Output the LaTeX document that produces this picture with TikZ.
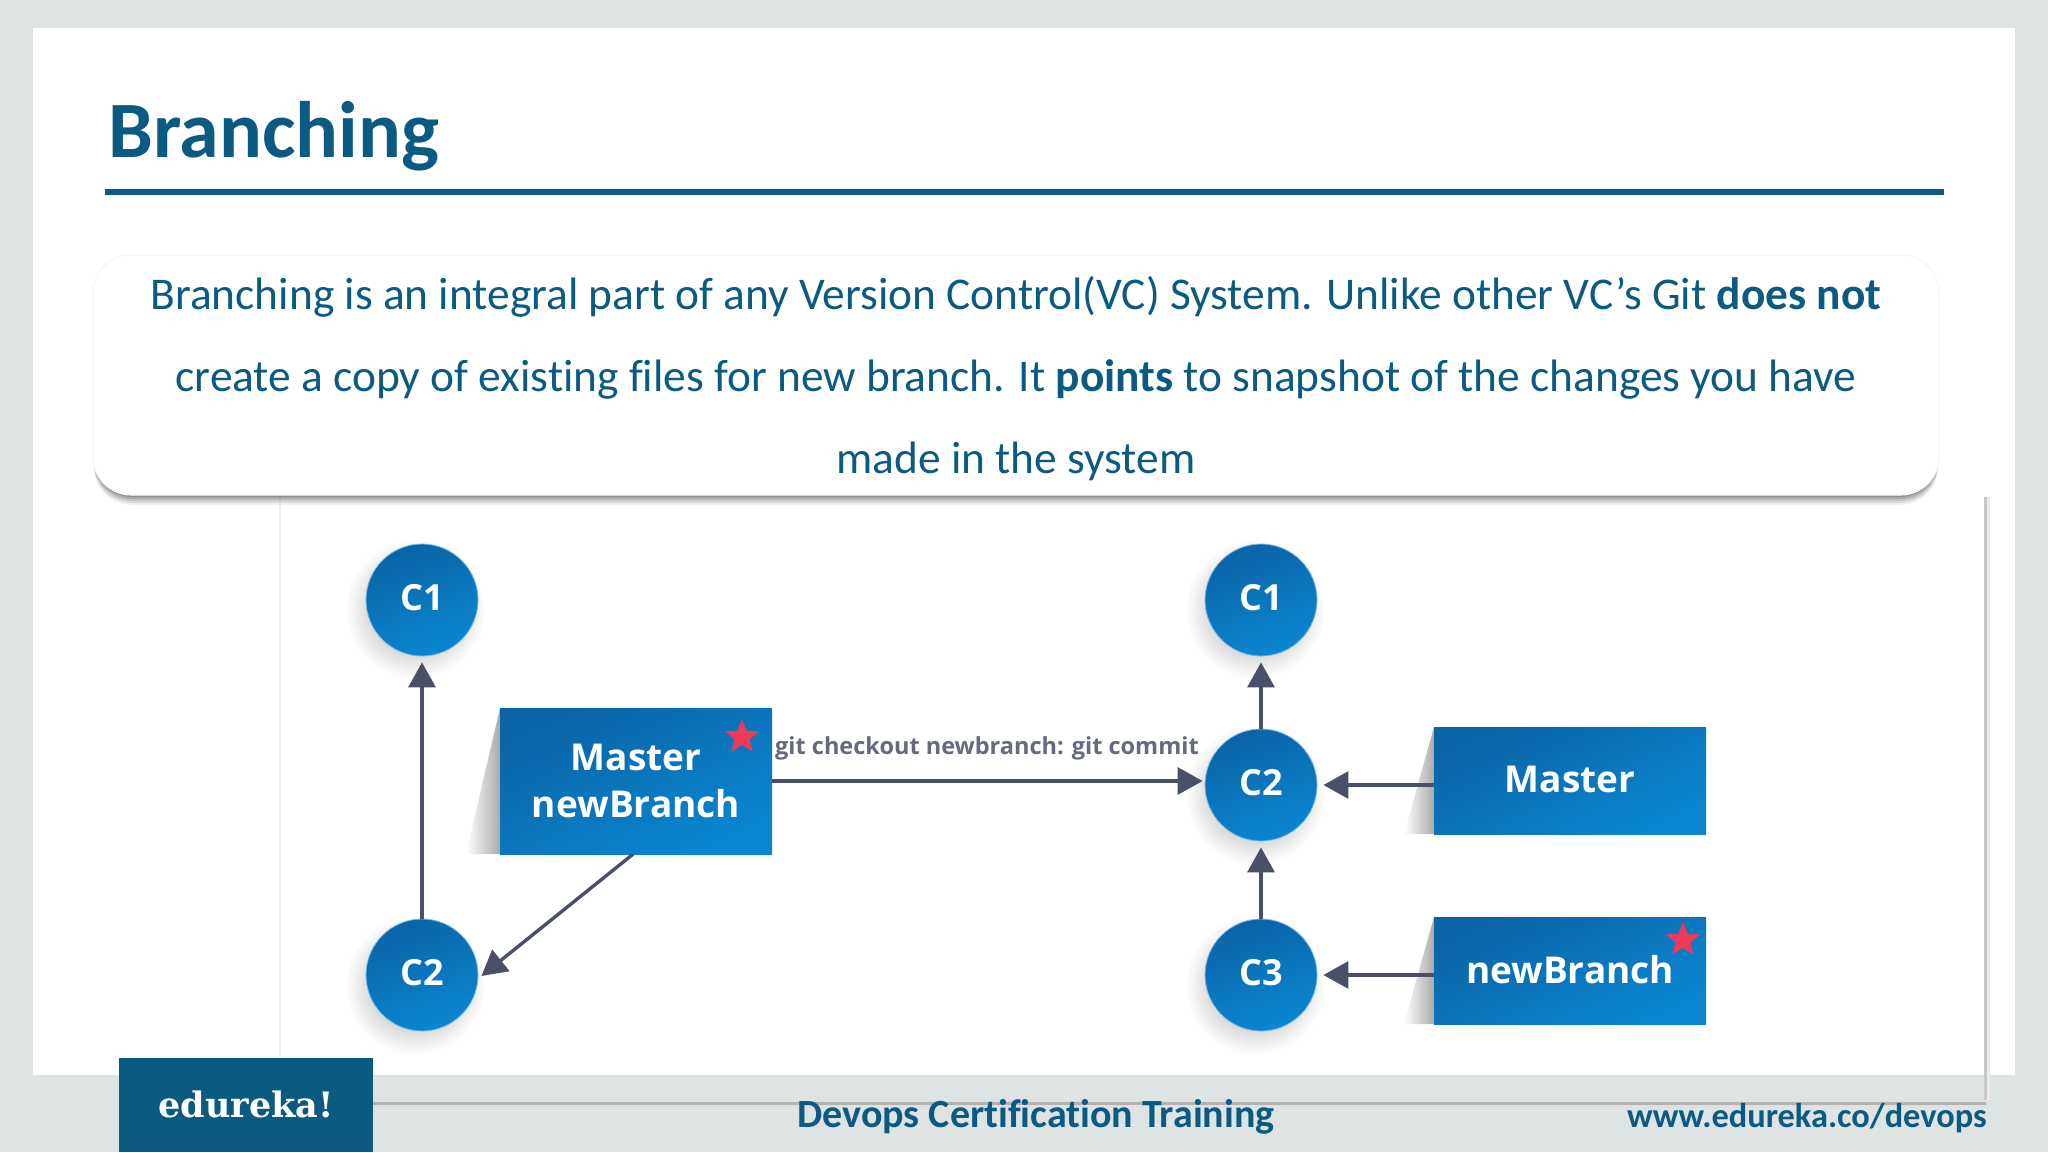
\documentclass[tikz,border=0pt]{standalone}
\usepackage{fontspec}
\setmainfont{Carlito}[Ligatures=NoCommon]
\newfontfamily\diag{Open Sans}
\newfontfamily\slab{DejaVu Serif}
\usetikzlibrary{shapes.geometric,arrows.meta,fadings}
\definecolor{slidebg}{HTML}{DEE3E3}
\definecolor{teal}{HTML}{0B5A82}
\definecolor{dk}{HTML}{4A5068}
\definecolor{blA}{HTML}{0A64A6}
\definecolor{blB}{HTML}{0A86D2}
\definecolor{starred}{HTML}{EE3A5A}
\tikzset{
  commit/.style={circle,minimum size=112pt,inner sep=0pt,shade,left color=blA,right color=blB,shading angle=20,
    draw=blB!55!white,line width=.8pt,text=white,font=\diag\fontsize{36}{40}\selectfont\bfseries},
  refbox/.style={rectangle,inner sep=0pt,left color=blA,right color=blB,shading angle=25,text=white,align=center,
    font=\diag\fontsize{37}{46}\selectfont\bfseries},
  conn/.style={draw=dk,line width=3.4pt,-{Triangle[length=25pt,width=27pt]}},
  gstar/.style={star,star points=5,star point ratio=2.3,fill=starred,minimum size=36pt,inner sep=0pt},
  boxshade/.style={fill=black!60,path fading=west,opacity=.55},
  softshade/.style={inner color=black!42,outer color=white},
  body/.style={text=teal,font=\fontsize{45.4}{45.4}\selectfont,anchor=base},
}
\begin{document}
\begin{tikzpicture}[x=1pt,y=-1pt]
\useasboundingbox (0,0) rectangle (2048,1152);
\fill[slidebg] (0,0) rectangle (2048,1152);
\fill[white] (33,28) rectangle (2015,1075);
% picture frame
\draw[black!5,line width=1.5pt] (280,497) -- (280,1100);
\fill[black!8] (1985,497) rectangle (1990,1106);
\fill[black!22] (1983.5,497) rectangle (1986.5,1105);
\fill[black!12] (373,1100) rectangle (1990,1107);
\fill[black!30] (373,1102) rectangle (1986,1105);
% title
\node[anchor=base west,inner sep=0pt,text=teal,font=\fontsize{80}{80}\selectfont\bfseries] (title) at (108,157) {Branching};
\coordinate (ruleL) at (105,192);
\coordinate (ruleR) at (1944,192);
\draw[teal,line width=6pt] (ruleL) -- (ruleR);
% text box
\foreach \d/\o in {11/.06,9/.08,7/.10,5/.13,3/.16}
  \fill[black,opacity=\o,rounded corners=38pt] (94,400+\d) rectangle (1938,495+\d-1);
\node[rectangle,rounded corners=38pt,fill=white,draw=black!4,line width=1pt,minimum width=1846pt,minimum height=240pt,inner sep=0pt] (panel) at (1016,375) {};
\node[body] (l1) at (1016,309.5) {Branching is an integral part of any Version Control(VC) System. Unlike other VC’s Git \textbf{does not}};
\node[body] (l2) at (1016,391) {create a copy of existing files for new branch. It \textbf{points} to snapshot of the changes you have};
\node[body] (l3) at (1016,473) {made in the system};
% soft shadows
\shade[softshade] (415,609) circle (70pt);
\shade[softshade] (415,985) circle (70pt);
\shade[softshade] (1255,609) circle (70pt);
\shade[softshade] (1255,795) circle (70pt);
\shade[softshade] (1255,985) circle (70pt);
\fill[boxshade] (500,708) -- (500,854) -- (466,854) -- cycle;
\fill[boxshade] (1434,727) -- (1434,834) -- (1404,834) -- cycle;
\fill[boxshade] (1434,917) -- (1434,1024) -- (1404,1024) -- cycle;
% commits
\node[commit] (a1) at (422,600) {\raisebox{4.5pt}{C1}};
\node[commit] (a2) at (422,975) {\raisebox{4.5pt}{C2}};
\node[commit] (b1) at (1261,600) {\raisebox{4.5pt}{C1}};
\node[commit] (b2) at (1261,785) {\raisebox{4.5pt}{C2}};
\node[commit] (b3) at (1261,975) {\raisebox{4.5pt}{C3}};
% boxes
\node[refbox,minimum width=272pt,minimum height=146pt] (mn) at (636,781) {\raisebox{1pt}{Master}\\newBranch};
\node[refbox,minimum width=272pt,minimum height=107pt] (m) at (1570,780.5) {\raisebox{2.5pt}{Master}};
\node[refbox,minimum width=272pt,minimum height=107pt] (n) at (1570,970.5) {\raisebox{3pt}{newBranch}};
\node[gstar] (s1) at (742,737) {};
\node[gstar] (s2) at (1683,940) {};
% connectors
\draw[conn] (a2.north) -- ([yshift=-6pt]a1.south);
\draw[conn] ([xshift=-3pt]mn.south) -- ([shift={(3pt,-1pt)}]a2.east);
\draw[conn] (mn.east) -- ([xshift=-2pt]mn.east -| b2.west);
\draw[conn] (b2.north) -- ([yshift=-6pt]b1.south);
\draw[conn] (b3.north) -- ([yshift=-6pt]b2.south);
\draw[conn] (b2.east -| m.west) -- ([xshift=6pt]b2.east);
\draw[conn] (b3.east -| n.west) -- ([xshift=6pt]b3.east);
\node[anchor=base,inner sep=0pt,text=dk!85,font=\diag\fontsize{23.5}{23.5}\selectfont\bfseries] (glabel) at (987,754) {git checkout newbranch: git commit};
% footer
\node[rectangle,fill=teal,minimum width=254pt,minimum height=94pt,inner sep=0pt] (logo) at (246,1105) {};
\node[anchor=base,inner sep=0pt,text=white,font=\slab\fontsize{35}{35}\selectfont\bfseries] (logot) at (246,1117) {edureka!};
\node[anchor=base,inner sep=0pt,text=teal,font=\fontsize{40}{40}\selectfont\bfseries] (f1) at (1036,1127) {Devops Certification Training};
\node[anchor=base east,inner sep=0pt,text=teal,font=\fontsize{34.4}{34.4}\selectfont\bfseries] (f2) at (1987,1127) {www.edureka.co/devops};
\end{tikzpicture}
\end{document}
